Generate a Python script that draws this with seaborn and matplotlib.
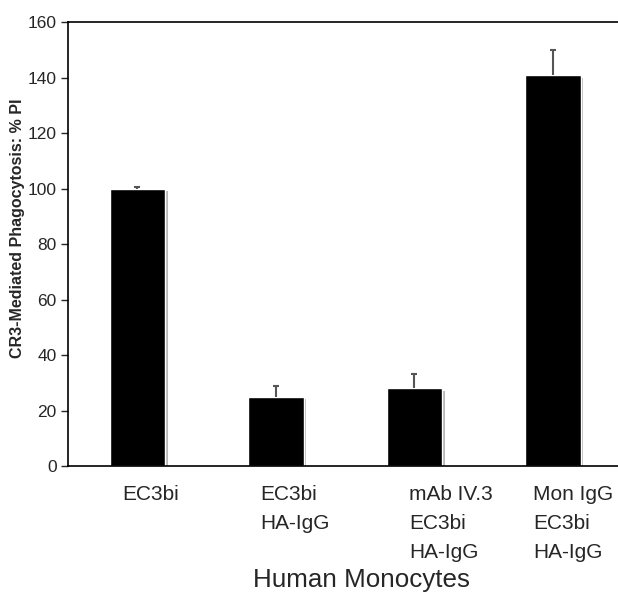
"""Bar chart - CR3-mediated phagocytosis in human monocytes."""

import matplotlib
matplotlib.use('Agg')  # Non-interactive backend
import matplotlib.pyplot as plt
import matplotlib.patheffects as pe
import matplotlib.transforms as mtransforms
import seaborn as sns
import pandas as pd

# Data
conditions = ['EC3bi', 'EC3bi\nHA-IgG', 'mAb IV.3\nEC3bi\nHA-IgG', 'Mon IgG\nEC3bi\nHA-IgG']
percent_pi = [100, 25, 28, 141]
error_up = [0.4, 4, 5, 9]
y_ticks = [0, 20, 40, 60, 80, 100, 120, 140, 160]

sns.set_style("white")
plt.rcParams['font.family'] = ['Liberation Sans', 'DejaVu Sans']

df = pd.DataFrame({'condition': conditions, 'value': percent_pi})

fig = plt.figure(figsize=(6.18, 5.92), dpi=100)
ax = fig.add_axes([0.110, 0.2128, 0.89, 0.75])

sns.barplot(data=df, x='condition', y='value', color='black', width=0.4,
            saturation=1, errorbar=None, ax=ax)
for bar in ax.patches:
    bar.set_path_effects([pe.SimplePatchShadow(offset=(2, -2), shadow_rgbFace='#b8b8b8', alpha=1),
                          pe.Normal()])

# upper error only (hide the lower caps)
_, caps, _ = ax.errorbar(range(len(percent_pi)), percent_pi, yerr=[[0] * len(error_up), error_up],
                         fmt='none', ecolor='#555555', elinewidth=1.5, capsize=2.5, capthick=1.5, zorder=1)
caps[0].set_visible(False)

ax.set_xlim(-0.5, 3.47)
ax.set_ylim(0, 160)
ax.set_yticks(y_ticks)
ax.tick_params(axis='y', labelsize=12.5, length=5, width=1, direction='out', left=True, pad=3)
ax.tick_params(axis='x', length=0, pad=14)

ax.set_xticks(range(len(conditions)))
ax.set_xticklabels(conditions, ha='left', fontsize=15, linespacing=1.65, va='top')
label_shift = [-15, -16, -5, -20]
for lbl, dx in zip(ax.get_xticklabels(), label_shift):
    lbl.set_transform(lbl.get_transform() + mtransforms.ScaledTranslation(dx / 100, 0, fig.dpi_scale_trans))

ax.set_xlabel('Human Monocytes', fontsize=18.7)
ax.xaxis.set_label_coords((362 - 68) / 550, -0.23)
ax.set_ylabel('CR3-Mediated Phagocytosis: % PI', fontsize=11.5, fontweight='bold')
ax.yaxis.set_label_coords(-0.078, 0.535)

for side in ['left', 'bottom', 'top']:
    ax.spines[side].set_color('black')
    ax.spines[side].set_linewidth(1.2)
ax.spines['right'].set_visible(False)

plt.savefig('out.png', dpi=100)
plt.close()
